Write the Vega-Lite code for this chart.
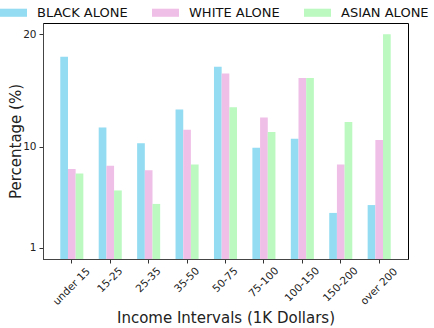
{
  "$schema": "https://vega.github.io/schema/vega-lite/v6.json",
  "width": 365,
  "height": 236,
  "autosize": {"type": "none"},
  "padding": {"left": 43, "top": 23, "right": 26, "bottom": 69},
  "background": "white",
  "config": {
    "font": "DejaVu Sans",
    "view": {"stroke": "black", "strokeWidth": 1},
    "axis": {"grid": false, "domainColor": "#444", "tickColor": "#333", "labelColor": "#222", "titleColor": "#222", "titleFontWeight": "normal", "labelFont": "DejaVu Sans", "titleFont": "DejaVu Sans", "labelFontSize": 10.5, "titleFontSize": 15, "tickSize": 4},
    "legend": {"labelFont": "DejaVu Sans"}
  },
  "data": {
    "values": [
      {"interval": "under 15", "group": "BLACK ALONE", "pct": 18.0},
      {"interval": "under 15", "group": "WHITE ALONE", "pct": 8.0},
      {"interval": "under 15", "group": "ASIAN ALONE", "pct": 7.6},
      {"interval": "15-25", "group": "BLACK ALONE", "pct": 11.7},
      {"interval": "15-25", "group": "WHITE ALONE", "pct": 8.3},
      {"interval": "15-25", "group": "ASIAN ALONE", "pct": 6.1},
      {"interval": "25-35", "group": "BLACK ALONE", "pct": 10.3},
      {"interval": "25-35", "group": "WHITE ALONE", "pct": 7.9},
      {"interval": "25-35", "group": "ASIAN ALONE", "pct": 4.9},
      {"interval": "35-50", "group": "BLACK ALONE", "pct": 13.3},
      {"interval": "35-50", "group": "WHITE ALONE", "pct": 11.5},
      {"interval": "35-50", "group": "ASIAN ALONE", "pct": 8.4},
      {"interval": "50-75", "group": "BLACK ALONE", "pct": 17.1},
      {"interval": "50-75", "group": "WHITE ALONE", "pct": 16.5},
      {"interval": "50-75", "group": "ASIAN ALONE", "pct": 13.5},
      {"interval": "75-100", "group": "BLACK ALONE", "pct": 9.9},
      {"interval": "75-100", "group": "WHITE ALONE", "pct": 12.6},
      {"interval": "75-100", "group": "ASIAN ALONE", "pct": 11.3},
      {"interval": "100-150", "group": "BLACK ALONE", "pct": 10.7},
      {"interval": "100-150", "group": "WHITE ALONE", "pct": 16.1},
      {"interval": "100-150", "group": "ASIAN ALONE", "pct": 16.1},
      {"interval": "150-200", "group": "BLACK ALONE", "pct": 4.1},
      {"interval": "150-200", "group": "WHITE ALONE", "pct": 8.4},
      {"interval": "150-200", "group": "ASIAN ALONE", "pct": 12.2},
      {"interval": "over 200", "group": "BLACK ALONE", "pct": 4.8},
      {"interval": "over 200", "group": "WHITE ALONE", "pct": 10.6},
      {"interval": "over 200", "group": "ASIAN ALONE", "pct": 20.0}
    ]
  },
  "mark": {"type": "bar"},
  "encoding": {
    "x": {
      "field": "interval", "type": "nominal", "sort": null,
      "scale": {"paddingInner": 0.4, "paddingOuter": 0.45},
      "axis": {"title": "Income Intervals (1K Dollars)", "labelAngle": -45, "labelAlign": "center", "labelBaseline": "middle",
        "labelPadding": {"expr": "2 + (length(datum.label) * 6.2 + 10.5) * 0.3536"},
        "titleY": 58, "titleBaseline": "middle"}
    },
    "xOffset": {
      "field": "group", "type": "nominal",
      "sort": ["BLACK ALONE", "WHITE ALONE", "ASIAN ALONE"],
      "scale": {"paddingInner": 0, "paddingOuter": 0}
    },
    "y": {
      "field": "pct", "type": "quantitative",
      "scale": {"domain": [0, 21], "nice": false, "zero": true},
      "axis": {"title": "Percentage (%)", "values": [1, 10, 20], "labelPadding": 3, "titleX": -28, "titleBaseline": "middle"}
    },
    "color": {
      "field": "group", "type": "nominal",
      "sort": ["BLACK ALONE", "WHITE ALONE", "ASIAN ALONE"],
      "scale": {"domain": ["BLACK ALONE", "WHITE ALONE", "ASIAN ALONE"], "range": ["#93dcf2", "#f0bfe7", "#bbf9c1"]},
      "legend": {
        "title": null, "orient": "none", "direction": "horizontal",
        "legendX": -43, "legendY": -24,
        "symbolType": "M-1,-0.3H1V0.3H-1Z", "symbolSize": 729, "symbolStrokeWidth": 0, "symbolOpacity": 1,
        "labelFontSize": 13, "labelColor": "#111", "labelOffset": 10, "columnPadding": 24
      }
    }
  }
}
